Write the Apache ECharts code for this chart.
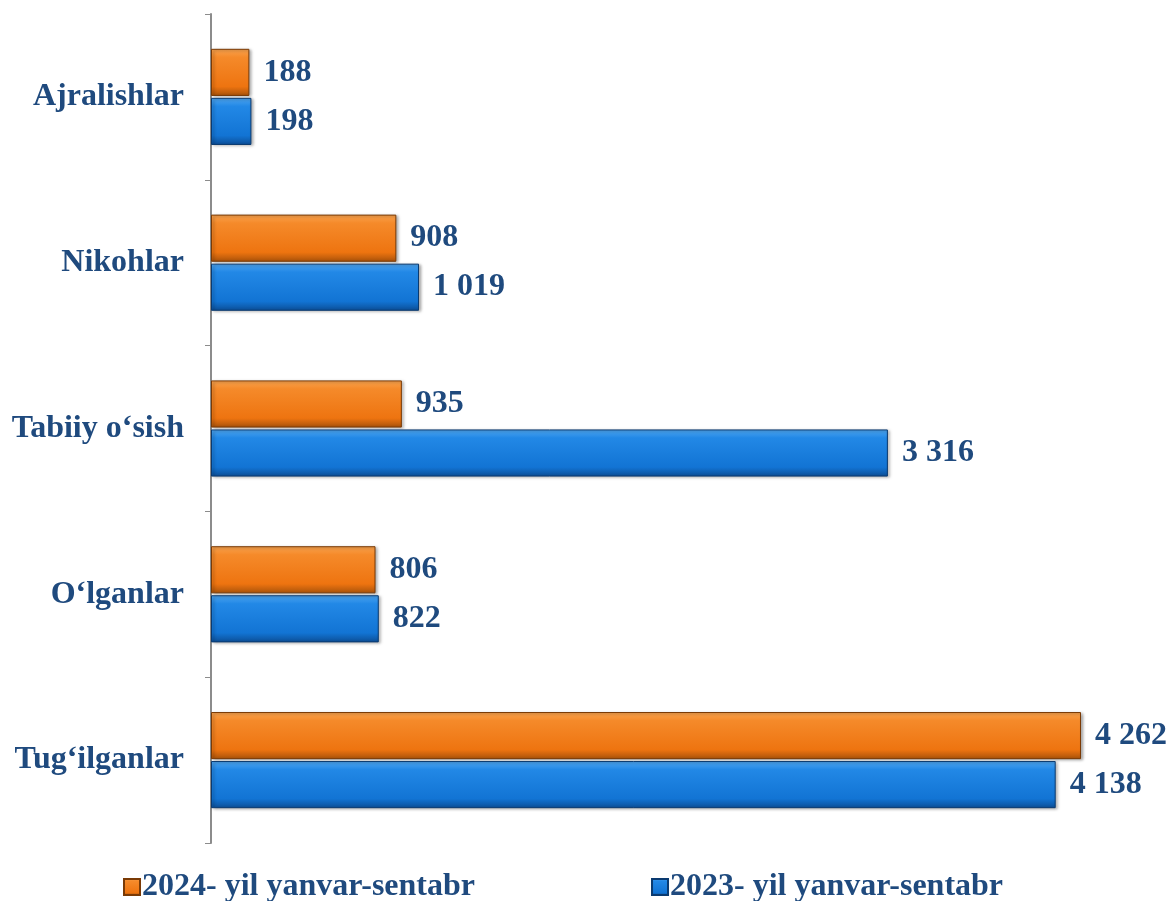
<!DOCTYPE html>
<html>
<head>
<meta charset="utf-8">
<script src="https://cdn.jsdelivr.net/npm/echarts@6/dist/echarts.min.js"></script>
<style>
  html, body { margin: 0; padding: 0; background: #fff; }
  #main { width: 1173px; height: 901px; }
</style>
</head>
<body>
<div id="main"></div>
<script>
// 数据
var categories = ['Tug‘ilganlar', 'O‘lganlar', 'Tabiiy o‘sish', 'Nikohlar', 'Ajralishlar'];
var seriesNames = ['2024- yil yanvar-sentabr', '2023- yil yanvar-sentabr'];
var values2024 = [4262, 806, 935, 908, 188];
var values2023 = [4138, 822, 3316, 1019, 198];

var textColor = '#1F4A7E';
var fontName = '"Liberation Serif", "Times New Roman", serif';

function fmt(v) {
  return String(v).replace(/\B(?=(\d{3})+(?!\d))/g, ' ');
}

// 立体效果渐变
function grad(c1, c2, c3, c4) {
  return new echarts.graphic.LinearGradient(0, 0, 0, 1, [
    {offset: 0, color: c1},
    {offset: 0.18, color: c2},
    {offset: 0.8, color: c3},
    {offset: 1, color: c4}
  ]);
}
var orangeFill = grad('#F9A450', '#F58A2A', '#EE7410', '#A8520A');
var blueFill = grad('#4FA6F0', '#2288E6', '#1274D4', '#0C4E96');

var labelStyle = {
  show: true,
  position: 'right',
  distance: 14,
  color: textColor,
  fontFamily: fontName,
  fontWeight: 'bold',
  fontSize: 32,
  formatter: function (p) { return fmt(p.value); }
};

var chart = echarts.init(document.getElementById('main'));
chart.setOption({
  animation: false,
  grid: {
    left: 211,
    top: 14,
    bottom: 58,
    width: 939
  },
  legend: {
    data: seriesNames,
    top: 866,
    left: 118,
    itemGap: 176,
    itemWidth: 16,
    itemHeight: 16,
    icon: 'rect',
    textStyle: {
      color: textColor,
      fontFamily: fontName,
      fontWeight: 'bold',
      fontSize: 32,
      padding: [0, 0, 0, -3]
    }
  },
  xAxis: {
    type: 'value',
    min: 0,
    max: 4600,
    show: false
  },
  yAxis: {
    type: 'category',
    data: categories,
    axisLine: { show: true, lineStyle: { color: '#8C8C8C', width: 2 } },
    axisTick: { show: true, length: 6, lineStyle: { color: '#8C8C8C', width: 1 } },
    axisLabel: {
      margin: 27,
      color: textColor,
      fontFamily: fontName,
      fontWeight: 'bold',
      fontSize: 32
    }
  },
  series: [{
    name: seriesNames[0],
    type: 'bar',
    data: values2024,
    barGap: '4%',
    barCategoryGap: '42%',
    itemStyle: {
      color: orangeFill,
      borderColor: '#7A3A05',
      borderWidth: 1,
      shadowColor: 'rgba(0,0,0,0.35)',
      shadowBlur: 3,
      shadowOffsetX: 2,
      shadowOffsetY: 1
    },
    label: labelStyle
  }, {
    name: seriesNames[1],
    type: 'bar',
    data: values2023,
    itemStyle: {
      color: blueFill,
      borderColor: '#0A3A70',
      borderWidth: 1,
      shadowColor: 'rgba(0,0,0,0.35)',
      shadowBlur: 3,
      shadowOffsetX: 2,
      shadowOffsetY: 1
    },
    label: labelStyle
  }]
});
</script>
</body>
</html>
